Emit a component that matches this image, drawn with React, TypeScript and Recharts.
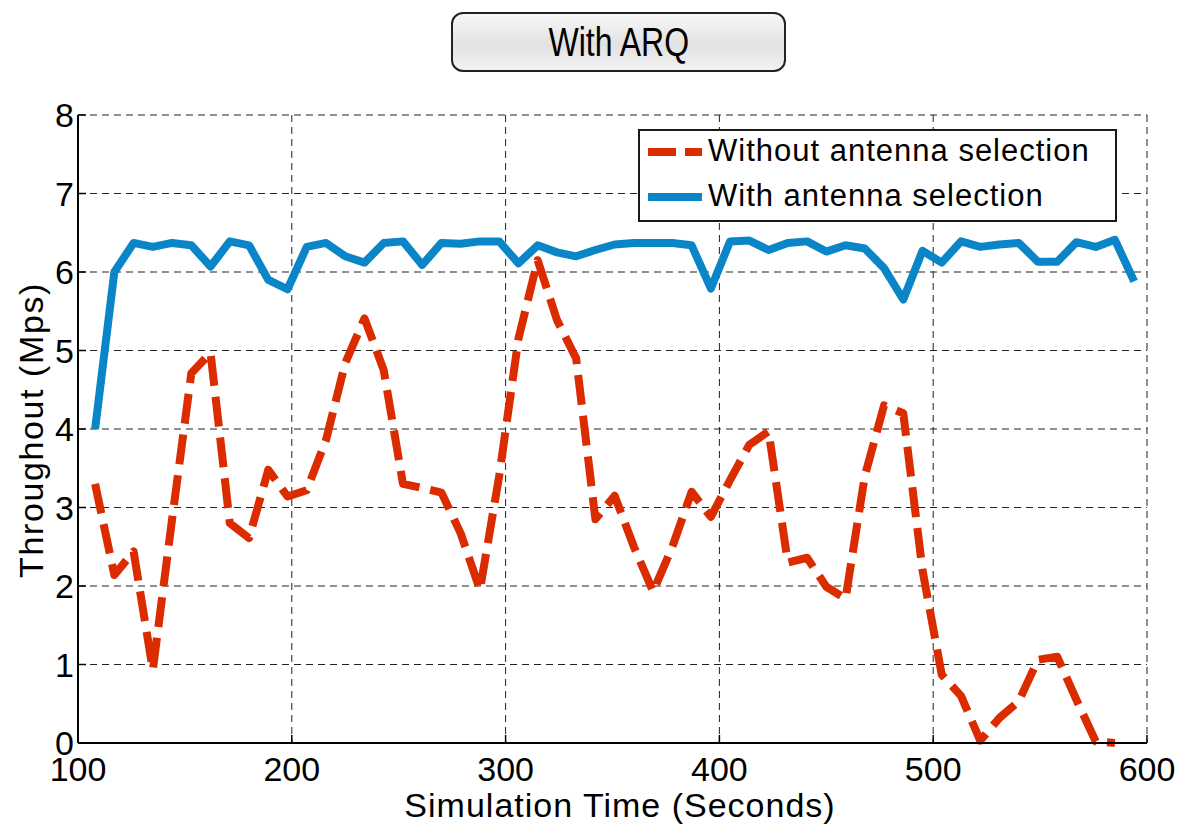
import React from "react";
import {
  LineChart, Line, XAxis, YAxis, CartesianGrid,
} from "recharts";

// simulation time (s) of each sample
const times = [
  108, 117, 126, 135, 144, 153, 162, 171, 180, 189,
  198, 207, 216, 225, 234, 243, 252, 261, 270, 279,
  288, 297, 306, 315, 324, 333, 342, 351, 360, 369,
  378, 387, 396, 405, 414, 423, 432, 441, 450, 459,
  468, 477, 486, 495, 504, 513, 522, 531, 540, 549,
  558, 567, 576, 585, 594,
];

const withSel = [
  4.0, 6.0, 6.37, 6.32, 6.37, 6.34, 6.07, 6.39, 6.34, 5.9,
  5.78, 6.32, 6.37, 6.2, 6.12, 6.37, 6.39, 6.09, 6.37, 6.36,
  6.39, 6.39, 6.11, 6.34, 6.25, 6.2, 6.28, 6.35, 6.37, 6.37,
  6.37, 6.34, 5.79, 6.39, 6.4, 6.28, 6.37, 6.39, 6.26, 6.34,
  6.3, 6.05, 5.65, 6.27, 6.12, 6.39, 6.32, 6.35, 6.37, 6.13,
  6.13, 6.38, 6.32, 6.41, 5.88,
];

const withoutSel: (number | null)[] = [
  3.3, 2.14, 2.44, 0.93, 2.85, 4.71, 4.97, 2.8, 2.61, 3.48,
  3.14, 3.22, 3.86, 4.84, 5.41, 4.75, 3.3, 3.25, 3.19, 2.67,
  1.95, 3.4, 5.15, 6.15, 5.39, 4.9, 2.85, 3.15, 2.5, 1.93,
  2.5, 3.2, 2.88, 3.35, 3.8, 3.97, 2.3, 2.36, 1.99, 1.84,
  3.4, 4.3, 4.2, 2.2, 0.87, 0.6, 0.03, 0.32, 0.53, 1.06,
  1.1, 0.55, 0.02, 0.0, null,
];

const xTicks = [100, 200, 300, 400, 500, 600];
const yTicks = [0, 1, 2, 3, 4, 5, 6, 7, 8];

const RED = "#db2c00";
const BLUE = "#0a86c8";
const FONT = "'Liberation Sans', Arial, Helvetica, sans-serif";

const data = times.map((t, i) => ({ t, without: withoutSel[i], with: withSel[i] }));

const tickStyle = { fill: "#000", fontSize: 34, fontFamily: FONT };

// legend drawn as an overlay so it doesn't eat into the plot area
function LegendBox() {
  return (
    <div
      style={{
        position: "absolute", left: 638, top: 129,
        width: 479, height: 93, boxSizing: "border-box",
        border: "2px solid #1a1a1a", background: "#fff",
        fontFamily: FONT, fontSize: 31, letterSpacing: 1, color: "#000",
      }}
    >
      <svg width={70} height={89} style={{ position: "absolute", left: 0, top: 0 }}>
        <line x1={8} y1={21} x2={62} y2={21} stroke={RED} strokeWidth={8} strokeDasharray="28 9" />
        <line x1={8} y1={66} x2={62} y2={66} stroke={BLUE} strokeWidth={8} />
      </svg>
      <div style={{ position: "absolute", left: 68, top: 2, whiteSpace: "nowrap" }}>Without antenna selection</div>
      <div style={{ position: "absolute", left: 68, top: 47, whiteSpace: "nowrap" }}>With antenna selection</div>
    </div>
  );
}

export default function App() {
  return (
    <div style={{ position: "relative", width: 1179, height: 824, background: "#fff" }}>
      <style>{`body{margin:0;background:#fff}`}</style>
      <LineChart width={1179} height={824} data={data} margin={{ top: 115, right: 32, bottom: 0, left: 0 }}>
        <CartesianGrid stroke="#222" strokeDasharray="7 5" strokeWidth={1} />
        <XAxis
          dataKey="t" type="number" domain={[100, 600]} ticks={xTicks} height={81}
          axisLine={{ stroke: "#000", strokeWidth: 2 }} tickLine={{ stroke: "#000", strokeWidth: 1.5 }}
          tickSize={-8} tickMargin={22} tick={tickStyle} interval={0}
          label={() => (
            <text x={620} y={817} textAnchor="middle" fontFamily={FONT} fontSize={34} letterSpacing={1} fill="#000">
              Simulation Time (Seconds)
            </text>
          )}
        />
        <XAxis
          xAxisId="top" orientation="top" dataKey="t" type="number" domain={[100, 600]} ticks={xTicks}
          height={0} tick={false} tickSize={-8} axisLine={{ stroke: "#000", strokeWidth: 2 }}
          tickLine={{ stroke: "#000", strokeWidth: 1.5 }}
        />
        <YAxis
          type="number" domain={[0, 8]} ticks={yTicks} width={78} interval={0}
          axisLine={{ stroke: "#000", strokeWidth: 2 }} tickLine={{ stroke: "#000", strokeWidth: 1.5 }}
          tickSize={-8} tickMargin={12} tick={tickStyle}
          label={() => (
            <text x={43} y={430} textAnchor="middle" fontFamily={FONT} fontSize={34} letterSpacing={1.6}
              fill="#000" transform="rotate(-90 43 430)">
              Throughout (Mps)
            </text>
          )}
        />
        <YAxis
          yAxisId="right" orientation="right" type="number" domain={[0, 8]} ticks={yTicks} width={0}
          tick={false} tickSize={-8} axisLine={{ stroke: "#000", strokeWidth: 2 }}
          tickLine={{ stroke: "#000", strokeWidth: 1.5 }}
        />
        <Line
          type="linear" dataKey="without" name="Without antenna selection" stroke={RED} strokeWidth={8}
          strokeDasharray="30 11" strokeLinejoin="round" dot={false} isAnimationActive={false} connectNulls={false}
        />
        <Line
          type="linear" dataKey="with" name="With antenna selection" stroke={BLUE} strokeWidth={8}
          strokeLinejoin="round" dot={false} isAnimationActive={false}
        />
      </LineChart>
      <LegendBox />
      <div
        style={{
          position: "absolute", left: 451, top: 12, width: 335, height: 60, boxSizing: "border-box",
          border: "2px solid #222", borderRadius: 12,
          background: "linear-gradient(to bottom, #f7f7f7 0%, #e2e2e2 55%, #f2f2f2 100%)",
          display: "flex", alignItems: "center", justifyContent: "center",
          fontFamily: FONT, fontSize: 40, color: "#000",
        }}
      >
        <span style={{ display: "inline-block", transform: "scaleX(0.8)" }}>With ARQ</span>
      </div>
    </div>
  );
}
